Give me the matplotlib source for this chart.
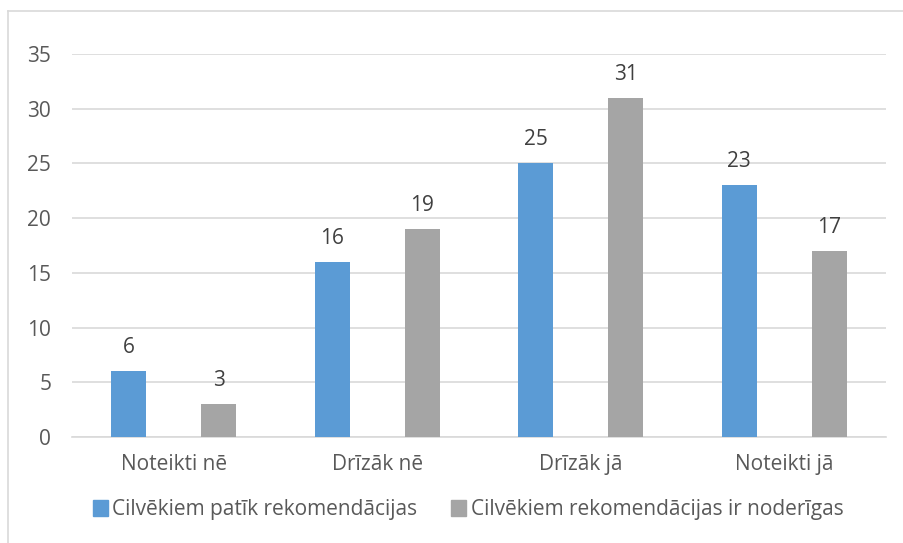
import matplotlib
matplotlib.use("Agg")
import matplotlib.pyplot as plt
from matplotlib.lines import Line2D
import numpy as np

categories = ["Noteikti nē", "Drīzāk nē", "Drīzāk jā", "Noteikti jā"]
series_names = ["Cilvēkiem patīk rekomendācijas", "Cilvēkiem rekomendācijas ir noderīgas"]
values_like = [6, 16, 25, 23]
values_useful = [3, 19, 31, 17]
yticks = [0, 5, 10, 15, 20, 25, 30, 35]

plt.rcParams['font.family'] = ['Open Sans', 'DejaVu Sans']
txt = "#595959"
blue = "#5B9BD5"
grey = "#A5A5A5"
fs = 15

W, H = 904, 543
fig = plt.figure(figsize=(W/100, H/100), dpi=100)
fig.patch.set_facecolor("white")

# outer chart border (top and left visible)
fig.add_artist(Line2D([8/W, 8/W], [0, 1 - 11/H], color="#D9D9D9", lw=1.2, transform=fig.transFigure))
fig.add_artist(Line2D([8/W, 1], [1 - 11/H, 1 - 11/H], color="#D9D9D9", lw=1.2, transform=fig.transFigure))

left, right = 72/W, 886/W
top_px, bot_px = 54, 437
ax = fig.add_axes([left, 1 - bot_px/H, right - left, (bot_px - top_px)/H])

x = np.arange(len(categories))
off = 0.221
bw = 0.172
b1 = ax.bar(x - off, values_like, bw, color=blue, zorder=3)
b2 = ax.bar(x + off, values_useful, bw, color=grey, zorder=3)
for bars, vals in ((b1, values_like), (b2, values_useful)):
    for r, v in zip(bars, vals):
        ax.text(r.get_x() + r.get_width()/2, v + 1.2, str(v), ha="center", va="bottom",
                fontsize=fs, color="#404040")

ax.set_xlim(-0.5, 3.5)
ax.set_ylim(0, 35)
ax.set_yticks(yticks)
ax.set_yticklabels([str(t) for t in yticks], fontsize=fs, color=txt)
ax.set_xticks(x)
ax.set_xticklabels(categories, fontsize=fs, color=txt)
ax.tick_params(axis="both", length=0)
ax.tick_params(axis="y", pad=15)
ax.tick_params(axis="x", pad=12)
ax.yaxis.grid(True, color="#D9D9D9", lw=1.2, zorder=0)
for s in ["top", "right", "left"]:
    ax.spines[s].set_visible(False)
ax.spines["bottom"].set_color("#D9D9D9")
ax.spines["bottom"].set_linewidth(1.2)

handles = [plt.Rectangle((0, 0), 1, 1, color=blue), plt.Rectangle((0, 0), 1, 1, color=grey)]
fig.legend(handles, series_names, loc="center", bbox_to_anchor=(468/W, 1 - 510/H), ncol=2,
           frameon=False, fontsize=fs, labelcolor=txt, handlelength=0.75, handleheight=0.8,
           handletextpad=0.2, columnspacing=1.6)

fig.savefig("out.png", dpi=100)
